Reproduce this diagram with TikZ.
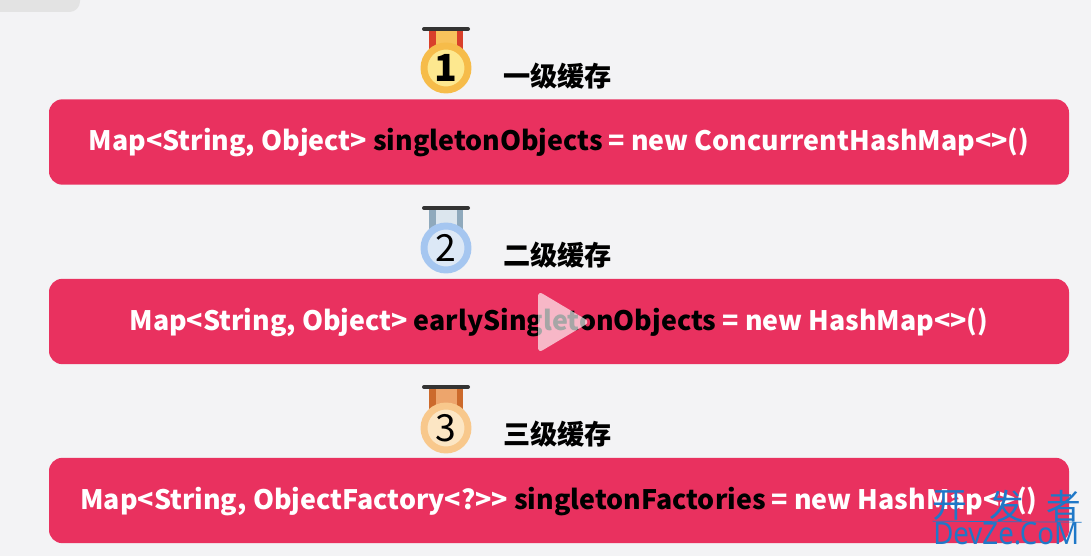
\documentclass[tikz,border=0pt]{standalone}
\usepackage{fontspec}
\setmainfont{Noto Sans CJK SC}
\newfontfamily\markfont[FakeStretch=0.9]{Noto Sans}
\usepackage{tikz}

\definecolor{pagebg}{HTML}{F3F3F5}
\definecolor{boxred}{HTML}{E9315F}
\definecolor{markblue}{HTML}{1F78C8}
\definecolor{ribbonred}{HTML}{D9402B}
\definecolor{ribbongold}{HTML}{F8C35C}
\definecolor{ringgold}{HTML}{F6BC4A}
\definecolor{facegold}{HTML}{FDE88F}
\definecolor{ribbonblue}{HTML}{8FA9BC}
\definecolor{ribbonpale}{HTML}{DCE6EE}
\definecolor{ringblue}{HTML}{A5C6F0}
\definecolor{faceblue}{HTML}{DCE8F6}
\definecolor{ribbonbrown}{HTML}{CC6A2C}
\definecolor{ribbontan}{HTML}{EDA56C}
\definecolor{ringtan}{HTML}{F8C88C}
\definecolor{facetan}{HTML}{FCE6C4}

\tikzset{
	codebox/.style={draw=none, fill=boxred, rounded corners=10pt, minimum width=765pt, minimum height=64pt, inner sep=0pt, text=white, text height=17.5pt, text depth=4pt, font=\fontsize{20.1}{24}\selectfont\bfseries},
	levellabel/.style={font=\fontsize{20.4}{24}\selectfont\bfseries, inner sep=0pt},
	medalbar/.style={line width=3pt, line cap=round, draw=black!80},
	medalring/.style={line width=5.2pt},
	medalnum/.style={font=\fontsize{28}{32}\selectfont, inner sep=0pt},
	marktext/.style={text=markblue, inner sep=0pt, font=\fontsize{26}{30}\selectfont}
}

\begin{document}
\begin{tikzpicture}[x=0.75pt,y=-0.75pt]
	\useasboundingbox (0,0) rectangle (1091,556);
	\fill[pagebg] (0,0) rectangle (1091,556);
	\fill[black!11, rounded corners=8pt] (-20,-20) rectangle (80,12);

	% first level
	\fill[ribbonred] (429,30) rectangle (463,56);
	\fill[ribbongold] (436,30) rectangle (457,56);
	\draw[medalbar] (424,29)--(468,29);
	\filldraw[medalring, draw=ringgold, fill=facegold] (446,68) circle (16.5pt);
	\node[medalnum, font=\fontsize{28}{32}\selectfont\bfseries] (numone) at (446,68) {1};
	\node[levellabel, anchor=west] (labelone) at (503,76) {一级缓存};
	\node[codebox] (boxone) at (559,142) {Map<String, Object> \textcolor{black}{singletonObjects} = new ConcurrentHashMap<>()};

	% second level
	\fill[ribbonblue] (429,209) rectangle (463,235);
	\fill[ribbonpale] (436,209) rectangle (457,235);
	\draw[medalbar] (424,208)--(468,208);
	\filldraw[medalring, draw=ringblue, fill=faceblue] (446,248) circle (16.5pt);
	\node[medalnum] (numtwo) at (446,248) {2};
	\node[levellabel, anchor=west] (labeltwo) at (503,255) {二级缓存};
	\node[codebox] (boxtwo) at (559,321.5) {Map<String, Object> \textcolor{black}{earlySingletonObjects} = new HashMap<>()};

	% third level
	\fill[ribbonbrown] (429,388) rectangle (463,414);
	\fill[ribbontan] (436,388) rectangle (457,414);
	\draw[medalbar] (424,387)--(468,387);
	\filldraw[medalring, draw=ringtan, fill=facetan] (446,428) circle (16.5pt);
	\node[medalnum] (numthree) at (446,428) {3};
	\node[levellabel, anchor=west] (labelthree) at (503,434) {三级缓存};
	\node[codebox] (boxthree) at (559,500.5) {Map<String, ObjectFactory<?>{}> \textcolor{black}{singletonFactories} = new HashMap<>()};

	% play button
	\fill[white, opacity=0.65, rounded corners=4pt] (538,291)--(590,322)--(538,353)--cycle;

	% site mark
	\node[marktext] (markone) at (950,506) {开};
	\node[marktext] (marktwo) at (1007,506) {发};
	\node[marktext] (markthree) at (1064,506) {者};
	\node[marktext, font=\fontsize{23}{26}\markfont, anchor=west] (markname) at (933,534) {DevZe.CoM};
	\draw[markblue, line width=0.5pt] (markone.south west)--(markthree.south east);
\end{tikzpicture}
\end{document}
